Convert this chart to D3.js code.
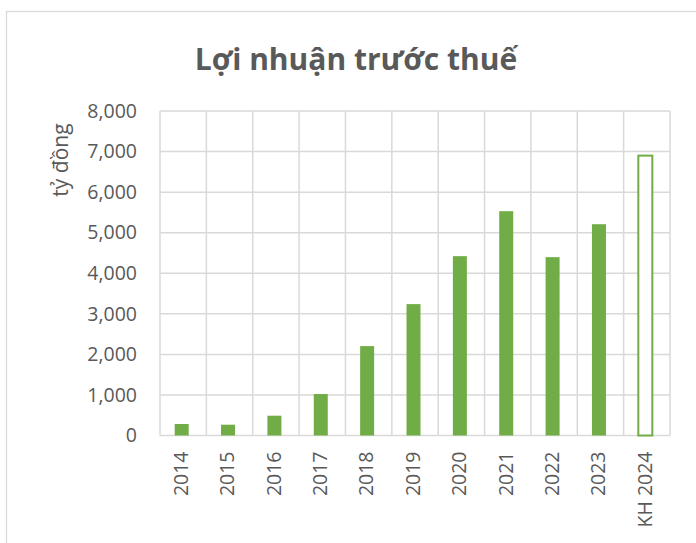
<!DOCTYPE html>
<html>
<head>
<meta charset="utf-8">
<script src="https://cdn.jsdelivr.net/npm/d3@7"></script>
<style>
  body { margin: 0; background: #fff; }
  text { font-family: "Open Sans", "Liberation Sans", sans-serif; fill: #595959; }
</style>
</head>
<body>
<svg id="chart" width="696" height="543"></svg>
<script>
// data
var years = ["2014", "2015", "2016", "2017", "2018", "2019", "2020", "2021", "2022", "2023", "KH 2024"];
var profit = [283, 266, 488, 1022, 2204, 3239, 4421, 5530, 4397, 5209, 6900];
var planned = [false, false, false, false, false, false, false, false, false, false, true];
var yTicks = [0, 1000, 2000, 3000, 4000, 5000, 6000, 7000, 8000];

var svg = d3.select("#chart");
var plotLeft = 160, plotRight = 670, plotTop = 111, plotBottom = 435.5;

// chart area border
svg.append("rect")
  .attr("x", 6.5).attr("y", 11.5)
  .attr("width", 720).attr("height", 560)
  .attr("fill", "none").attr("stroke", "#d9d9d9").attr("stroke-width", 1.3);

var x = d3.scaleBand().domain(years).range([plotLeft, plotRight]).paddingInner(0).paddingOuter(0);
var y = d3.scaleLinear().domain([0, 8000]).range([plotBottom, plotTop]);

// horizontal gridlines
svg.append("g").selectAll("line")
  .data(yTicks)
  .enter().append("line")
  .attr("x1", plotLeft).attr("x2", plotRight)
  .attr("y1", function (d) { return y(d); })
  .attr("y2", function (d) { return y(d); })
  .attr("stroke", "#d9d9d9").attr("stroke-width", 1.5);

// vertical gridlines at category edges
var edges = years.map(function (d) { return x(d); }).concat([plotRight]);
svg.append("g").selectAll("line")
  .data(edges)
  .enter().append("line")
  .attr("x1", function (d) { return d; }).attr("x2", function (d) { return d; })
  .attr("y1", plotTop).attr("y2", plotBottom)
  .attr("stroke", "#d9d9d9").attr("stroke-width", 1.5);

// bars
var bw = 14;
svg.append("g").selectAll("rect")
  .data(years)
  .enter().append("rect")
  .attr("x", function (d) { return x(d) + x.bandwidth() / 2 - bw / 2 - 1.5; })
  .attr("y", function (d, i) { return y(profit[i]); })
  .attr("width", bw)
  .attr("height", function (d, i) { return y(0) - y(profit[i]); })
  .attr("fill", function (d, i) { return planned[i] ? "#fff" : "#70ad47"; })
  .attr("stroke", function (d, i) { return planned[i] ? "#70ad47" : "none"; })
  .attr("stroke-width", 2);

// y axis labels
var yAxis = d3.axisLeft(y).tickValues(yTicks).tickSize(0).tickPadding(23)
  .tickFormat(d3.format(","));
var gy = svg.append("g").attr("transform", "translate(" + plotLeft + ",0)").call(yAxis);
gy.select(".domain").remove();
gy.selectAll("text")
  .style("font-family", "\"Open Sans\", sans-serif")
  .style("font-size", "19.5px").attr("fill", "#595959");

// x axis labels, rotated
var xAxis = d3.axisBottom(x).tickSize(0).tickPadding(0);
var gx = svg.append("g").attr("transform", "translate(-2," + plotBottom + ")").call(xAxis);
gx.select(".domain").remove();
gx.selectAll("text")
  .style("font-family", "\"Open Sans\", sans-serif")
  .style("font-size", "19.5px").attr("fill", "#595959")
  .attr("transform", "rotate(-90)")
  .attr("text-anchor", "end")
  .attr("x", -16).attr("y", 0).attr("dy", "0.35em");

// axis title
svg.append("text")
  .attr("transform", "translate(68,160) rotate(-90)")
  .attr("text-anchor", "middle")
  .style("font-size", "21px")
  .text("tỷ đồng");

// chart title
svg.append("text")
  .attr("x", 356).attr("y", 70)
  .attr("text-anchor", "middle")
  .style("font-size", "30px").style("font-weight", "bold")
  .text("Lợi nhuận trước thuế");
</script>
</body>
</html>
